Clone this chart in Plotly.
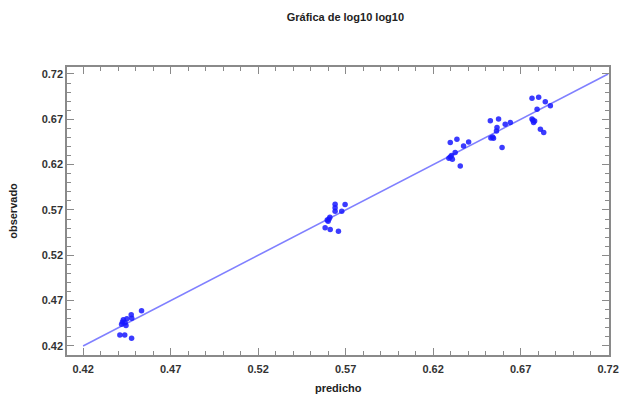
import plotly.graph_objects as go

# Data
predicho = [
    0.4420, 0.4425, 0.4430, 0.4440, 0.4450, 0.4475, 0.4478, 0.4534, 0.4410, 0.4438, 0.4477, 0.4445,
    0.5595, 0.5605, 0.5610, 0.5600, 0.5640, 0.5640, 0.5640, 0.5678, 0.5697, 0.5583, 0.5612, 0.5659,
    0.6290, 0.6298, 0.6305, 0.6326, 0.6355, 0.6298, 0.6336, 0.6374, 0.6403, 0.6310,
    0.6530, 0.6540, 0.6545, 0.6527, 0.6574, 0.6565, 0.6562, 0.6612, 0.6641, 0.6594,
    0.6765, 0.6774, 0.6770, 0.6780, 0.6765, 0.6803, 0.6841, 0.6870, 0.6794, 0.6813, 0.6832,
]
observado = [
    0.4440, 0.4465, 0.4490, 0.4455, 0.4500, 0.4545, 0.4505, 0.4587, 0.4322, 0.4320, 0.4285, 0.4425,
    0.5590, 0.5600, 0.5620, 0.5575, 0.5762, 0.5725, 0.5687, 0.5687, 0.5760, 0.5503, 0.5484, 0.5465,
    0.6270, 0.6285, 0.6300, 0.6333, 0.6185, 0.6444, 0.6480, 0.6406, 0.6450, 0.6260,
    0.6495, 0.6505, 0.6490, 0.6683, 0.6702, 0.6610, 0.6572, 0.6646, 0.6665, 0.6388,
    0.6702, 0.6665, 0.6690, 0.6680, 0.6931, 0.6942, 0.6893, 0.6849, 0.6812, 0.6591, 0.6554,
]
linea = [0.42, 0.72]
tick_vals = [0.42, 0.47, 0.52, 0.57, 0.62, 0.67, 0.72]
tick_text = ["0.42", "0.47", "0.52", "0.57", "0.62", "0.67", "0.72"]

FONT = "Liberation Sans, Arial, sans-serif"

fig = go.Figure()
fig.add_trace(go.Scatter(
    x=linea, y=linea, mode="lines",
    line=dict(color="rgb(128,128,255)", width=1.6),
    hoverinfo="skip", showlegend=False,
))
fig.add_trace(go.Scatter(
    x=predicho, y=observado, mode="markers",
    marker=dict(symbol="circle", size=5.5, color="rgba(25,25,255,0.85)", line=dict(width=0)),
    showlegend=False,
))

axis_common = dict(
    showline=True, linecolor="#8a8a8a", linewidth=1.5, mirror="allticks",
    ticks="inside", ticklen=7, tickwidth=1, tickcolor="#8a8a8a",
    showgrid=False, zeroline=False, automargin=False,
    tickvals=tick_vals, ticktext=tick_text,
    tickfont=dict(family=FONT, size=11, color="#333333", weight="bold"),
    minor=dict(ticks="inside", ticklen=4, tickcolor="#8a8a8a", dtick=0.01, tick0=0.42, showgrid=False),
)

fig.update_layout(
    width=619, height=398,
    margin=dict(l=67, r=10, t=67, b=43),
    paper_bgcolor="white", plot_bgcolor="white",
    title=dict(
        text="Gráfica de log10 log10", x=0.558, xanchor="center", y=0.957, yanchor="middle",
        font=dict(family=FONT, size=11, color="#222222", weight="bold"),
    ),
    xaxis=dict(range=[0.4108, 0.7205], ticklabelstandoff=3, **axis_common),
    yaxis=dict(range=[0.41, 0.7277], **axis_common),
    annotations=[
        dict(text="predicho", xref="paper", yref="paper", x=0.5, y=-0.115,
             xanchor="center", yanchor="middle", showarrow=False,
             font=dict(family=FONT, size=11, color="#222222", weight="bold")),
        dict(text="observado", xref="paper", yref="paper", x=-0.1, y=0.5,
             xanchor="center", yanchor="middle", showarrow=False, textangle=-90,
             xshift=0,
             font=dict(family=FONT, size=11, color="#222222", weight="bold")),
    ],
)

fig.write_html("out.html")
